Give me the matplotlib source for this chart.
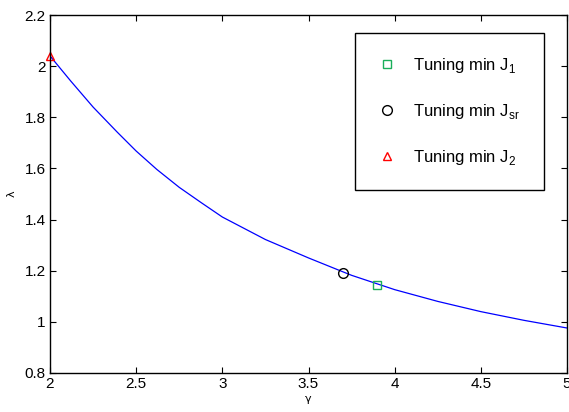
import matplotlib
matplotlib.use("Agg")
import matplotlib.pyplot as plt

plt.rcParams['font.family'] = ['Liberation Sans', 'DejaVu Sans']
plt.rcParams['mathtext.fontset'] = 'custom'
plt.rcParams['mathtext.rm'] = 'Liberation Sans'

# curve
gamma = [2.0, 2.12, 2.25, 2.39, 2.5, 2.62, 2.75, 2.88, 3.0, 3.25, 3.5, 3.75, 4.0, 4.25, 4.5, 4.75, 5.0]
lam = [2.04, 1.942, 1.84, 1.742, 1.668, 1.596, 1.526, 1.465, 1.41, 1.322, 1.25, 1.182, 1.126,
       1.08, 1.04, 1.006, 0.976]

# tuning points
j1_pt = (3.9, 1.145)
jsr_pt = (3.7, 1.19)
j2_pt = (2.0, 2.04)

xticks = [2, 2.5, 3, 3.5, 4, 4.5, 5]
yticks = [0.8, 1, 1.2, 1.4, 1.6, 1.8, 2, 2.2]

fig = plt.figure(figsize=(5.69, 4.12), dpi=100)
ax = fig.add_axes([50 / 569, 39 / 412, 517 / 569, 358 / 412])

ax.plot(gamma, lam, color='blue', lw=0.9)
ax.plot(*j1_pt, 's', mfc='none', mec='#1aae5a', ms=6, mew=1.0,
        label=r'Tuning min J$_{\mathregular{1}}$', clip_on=False)
ax.plot(*jsr_pt, 'o', mfc='none', mec='black', ms=7, mew=1.0,
        label=r'Tuning min J$_{\mathregular{sr}}$', clip_on=False)
ax.plot(*j2_pt, '^', mfc='none', mec='red', ms=6, mew=1.0,
        label=r'Tuning min J$_{\mathregular{2}}$', clip_on=False)

ax.set_xlim(2, 5)
ax.set_ylim(0.8, 2.2)
ax.set_xticks(xticks)
ax.set_xticklabels(['2', '2.5', '3', '3.5', '4', '4.5', '5'])
ax.set_yticks(yticks)
ax.set_yticklabels(['0.8', '1', '1.2', '1.4', '1.6', '1.8', '2', '2.2'])
ax.tick_params(direction='in', top=True, right=True, labelsize=11, length=4, pad=3)
for s in ax.spines.values():
    s.set_linewidth(1.0)

ax.set_xlabel('γ', fontsize=8, labelpad=2, family='DejaVu Sans')
ax.set_ylabel('λ', fontsize=8, labelpad=6, family='DejaVu Sans')

leg = ax.legend(loc='upper left', bbox_to_anchor=(0.59, 0.95), fontsize=12,
                labelspacing=1.6, handlelength=1.0, handletextpad=1.1,
                borderpad=1.4, borderaxespad=0, fancybox=False, framealpha=1)
leg.get_frame().set_edgecolor('black')
leg.get_frame().set_linewidth(1.0)

fig.savefig('out.png', dpi=100)
